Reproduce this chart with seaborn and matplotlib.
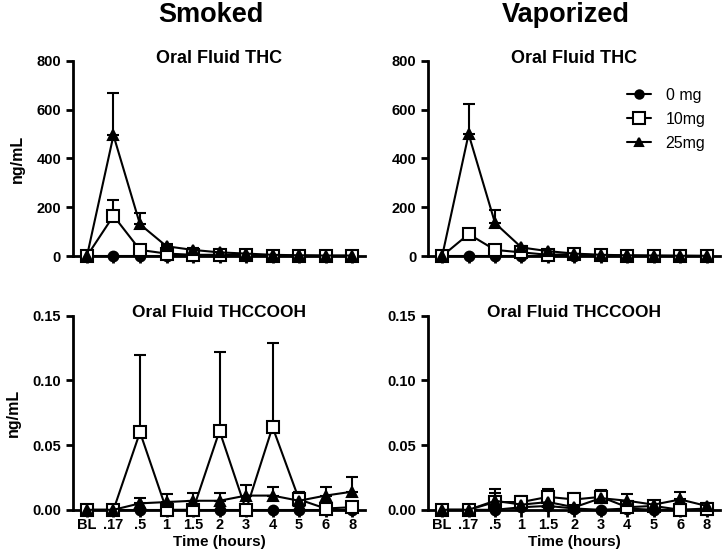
import numpy as np
import pandas as pd
import matplotlib
matplotlib.use("Agg")
import matplotlib.pyplot as plt
import seaborn as sns

# Time points (categorical x axis)
times = ["BL", ".17", ".5", "1", "1.5", "2", "3", "4", "5", "6", "8"]
doses = ["0 mg", "10mg", "25mg"]

# Smoked - oral fluid THC (mean, upper SD)
smk_thc_0 = [0, 0, 0, 0, 0, 0, 0, 0, 0, 0, 0]
smk_thc_10 = [0, 165, 25, 10, 5, 5, 5, 2, 2, 1, 1]
smk_thc_25 = [0, 495, 130, 40, 25, 15, 10, 5, 3, 2, 2]
smk_thc_0_sd = [0] * 11
smk_thc_10_sd = [0, 63, 8, 4, 3, 3, 3, 1, 1, 1, 1]
smk_thc_25_sd = [0, 173, 45, 8, 6, 5, 4, 2, 1, 1, 1]

# Vaporized - oral fluid THC
vap_thc_0 = [0, 0, 0, 0, 0, 0, 0, 0, 0, 0, 0]
vap_thc_10 = [0, 90, 25, 15, 5, 8, 3, 2, 1, 1, 0]
vap_thc_25 = [0, 500, 135, 35, 20, 10, 5, 3, 2, 1, 1]
vap_thc_0_sd = [0] * 11
vap_thc_10_sd = [0, 18, 8, 5, 3, 3, 2, 1, 1, 1, 0]
vap_thc_25_sd = [0, 125, 55, 8, 6, 4, 2, 1, 1, 1, 1]

# Smoked - oral fluid THCCOOH
smk_cooh_0 = [0, 0, 0, 0, 0, 0, 0, 0, 0, 0, 0]
smk_cooh_10 = [0, 0, 0.060, 0, 0, 0.061, 0, 0.064, 0.008, 0.001, 0.002]
smk_cooh_25 = [0, 0, 0.005, 0.006, 0.007, 0.007, 0.011, 0.011, 0.007, 0.011, 0.014]
smk_cooh_0_sd = [0] * 11
smk_cooh_10_sd = [0, 0, 0.060, 0, 0, 0.061, 0, 0.065, 0.006, 0.001, 0.001]
smk_cooh_25_sd = [0, 0, 0.004, 0.006, 0.006, 0.006, 0.008, 0.007, 0.007, 0.007, 0.011]

# Vaporized - oral fluid THCCOOH
vap_cooh_0 = [0, 0, 0, 0.002, 0.003, 0.001, 0, 0.001, 0, 0, 0]
vap_cooh_10 = [0, 0, 0.006, 0.006, 0.010, 0.008, 0.010, 0.002, 0.003, 0, 0.001]
vap_cooh_25 = [0, 0, 0.007, 0.004, 0.006, 0.002, 0.009, 0.007, 0.004, 0.008, 0.003]
vap_cooh_0_sd = [0] * 11
vap_cooh_10_sd = [0, 0, 0.007, 0.004, 0.006, 0.005, 0.004, 0.003, 0.003, 0, 0.001]
vap_cooh_25_sd = [0, 0, 0.009, 0.007, 0.008, 0.004, 0.006, 0.005, 0.003, 0.006, 0.002]

sns.set_style("ticks")
plt.rcParams["font.family"] = ["Liberation Sans", "DejaVu Sans"]
plt.rcParams["font.weight"] = "bold"
plt.rcParams["text.color"] = "black"
plt.rcParams["axes.labelcolor"] = "black"
plt.rcParams["xtick.color"] = "black"
plt.rcParams["ytick.color"] = "black"

fig = plt.figure(figsize=(7.22, 5.59), dpi=100)
ax_tl = fig.add_axes([0.101, 0.542, 0.405, 0.349])
ax_tr = fig.add_axes([0.593, 0.542, 0.404, 0.349])
ax_bl = fig.add_axes([0.101, 0.088, 0.405, 0.347])
ax_br = fig.add_axes([0.593, 0.088, 0.404, 0.347])

marker_map = {"0 mg": "o", "10mg": "s", "25mg": "^"}
face_map = {"0 mg": "black", "10mg": "white", "25mg": "black"}
size_map = {"0 mg": 7, "10mg": 9, "25mg": 7}


def draw_panel(ax, means, sds, ymax, yticks, ylabel_fmt, title, title_size):
    x = np.arange(len(times))
    for dose, m, s in zip(doses, means, sds):
        df = pd.DataFrame({"x": x, "y": m})
        # upward-only error bars
        ax.errorbar(x, m, yerr=[np.zeros(len(s)), s], fmt="none",
                    ecolor="black", elinewidth=1.5, capsize=4, capthick=1.5, zorder=2)
        sns.lineplot(data=df, x="x", y="y", ax=ax, color="black", lw=1.5,
                     marker=marker_map[dose], markersize=size_map[dose],
                     markerfacecolor=face_map[dose], markeredgecolor="black",
                     markeredgewidth=1.5, label=dose, zorder=3, clip_on=False)
    ax.set_xlim(-0.53, 10.5)
    ax.set_ylim(0, ymax)
    ax.set_yticks(yticks)
    ax.set_yticklabels([ylabel_fmt.format(v) for v in yticks])
    ax.set_xticks(x)
    ax.set_xlabel("")
    ax.set_ylabel("")
    ax.text(0.5, 1.015, title, transform=ax.transAxes, ha="center", va="center",
            fontsize=title_size, fontweight="bold")
    sns.despine(ax=ax)
    for sp in ("left", "bottom"):
        ax.spines[sp].set_linewidth(2)
        ax.spines[sp].set_color("black")
    ax.tick_params(axis="both", width=2, length=5, labelsize=10.5, color="black")
    ax.get_legend().remove()


draw_panel(ax_tl, [smk_thc_0, smk_thc_10, smk_thc_25],
           [smk_thc_0_sd, smk_thc_10_sd, smk_thc_25_sd],
           800, [0, 200, 400, 600, 800], "{:.0f}", "Oral Fluid THC", 13)
draw_panel(ax_tr, [vap_thc_0, vap_thc_10, vap_thc_25],
           [vap_thc_0_sd, vap_thc_10_sd, vap_thc_25_sd],
           800, [0, 200, 400, 600, 800], "{:.0f}", "Oral Fluid THC", 13)
draw_panel(ax_bl, [smk_cooh_0, smk_cooh_10, smk_cooh_25],
           [smk_cooh_0_sd, smk_cooh_10_sd, smk_cooh_25_sd],
           0.15, [0, 0.05, 0.10, 0.15], "{:.2f}", "Oral Fluid THCCOOH", 12.5)
draw_panel(ax_br, [vap_cooh_0, vap_cooh_10, vap_cooh_25],
           [vap_cooh_0_sd, vap_cooh_10_sd, vap_cooh_25_sd],
           0.15, [0, 0.05, 0.10, 0.15], "{:.2f}", "Oral Fluid THCCOOH", 12.5)

for ax in (ax_tl, ax_tr):
    ax.set_xticklabels([])
for ax in (ax_bl, ax_br):
    ax.set_xticklabels(times, fontsize=10.5, fontweight="bold")
    ax.tick_params(axis="x", pad=1)
    ax.set_xlabel("Time (hours)", fontsize=11, fontweight="bold", labelpad=2)

ax_tl.set_ylabel("ng/mL", fontsize=11.5, fontweight="bold", labelpad=8)
ax_bl.set_ylabel("ng/mL", fontsize=11.5, fontweight="bold", labelpad=8)

leg_handles = [plt.Line2D([], [], color="black", lw=1.5, marker=marker_map[d],
                          markersize=size_map[d] - 1, markerfacecolor=face_map[d],
                          markeredgecolor="black", markeredgewidth=1.5) for d in doses]
leg = ax_tr.legend(leg_handles, doses, loc="upper right", bbox_to_anchor=(1.0, 0.935),
                   frameon=False, fontsize=11.5, handlelength=1.5, labelspacing=0.55,
                   handletextpad=0.9)
for t in leg.get_texts():
    t.set_fontweight("normal")

fig.text(0.292, 0.961, "Smoked", ha="center", va="baseline", fontsize=19.5, fontweight="bold")
fig.text(0.784, 0.961, "Vaporized", ha="center", va="baseline", fontsize=19.5, fontweight="bold")

fig.savefig("out.png", dpi=100)
